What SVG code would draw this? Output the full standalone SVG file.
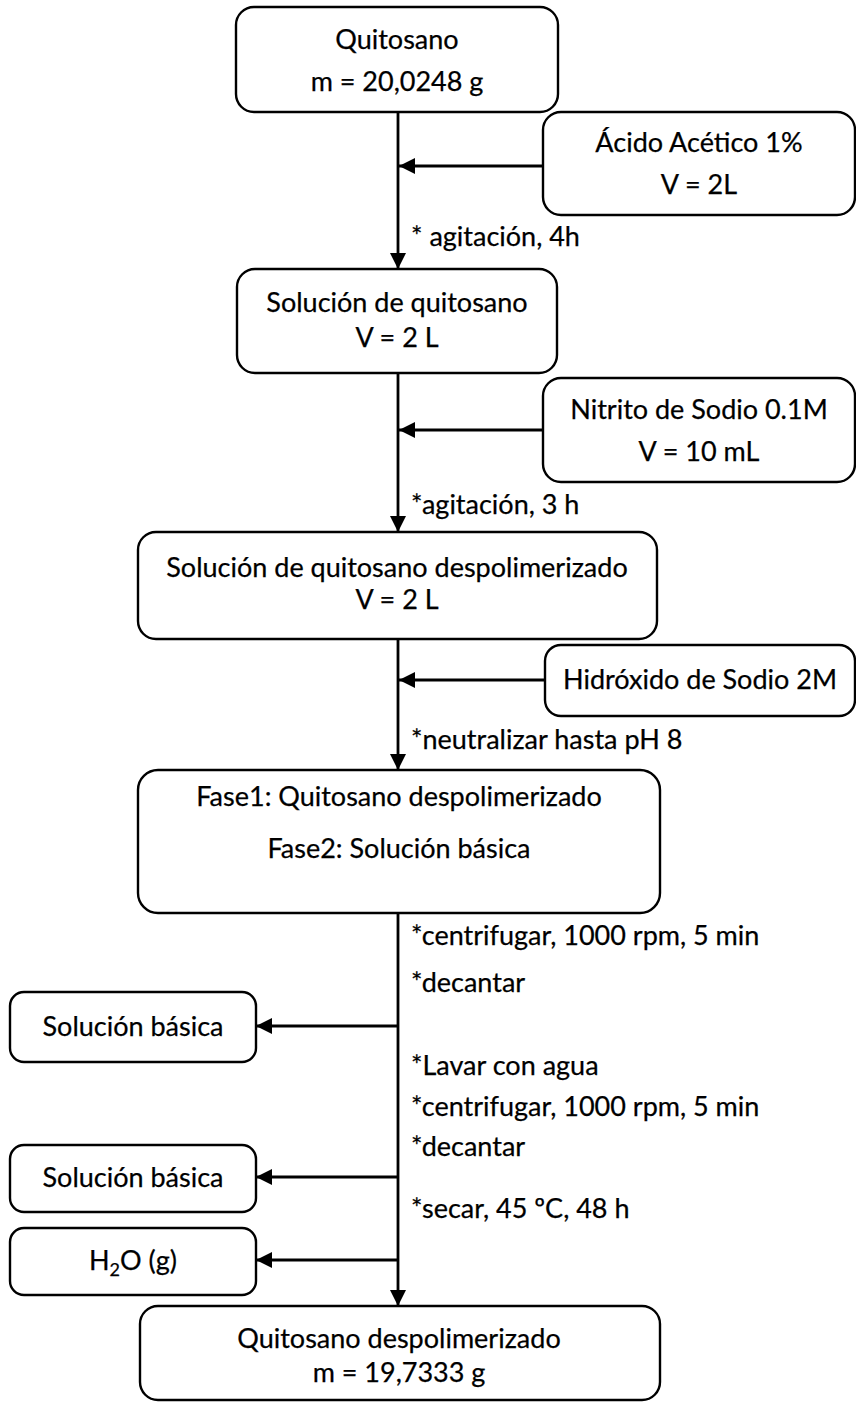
<svg xmlns="http://www.w3.org/2000/svg" width="856" height="1406" viewBox="0 0 856 1406">
<style>
.box{fill:#fff;stroke:#000;stroke-width:2.4}
.t{font-family:Lato,"Open Sans","Liberation Sans",sans-serif;font-size:27px;fill:#000;stroke:#000;stroke-width:0.25}
.c{text-anchor:middle}
.ln{stroke:#000;stroke-width:2.8;fill:none}
</style>
<defs>
<marker id="ah" markerUnits="userSpaceOnUse" markerWidth="17" markerHeight="16" refX="16" refY="8" orient="auto">
<path d="M0,0 L16,8 L0,16 z" fill="#000"/>
</marker>
</defs>
<rect width="856" height="1406" fill="#fff"/>
<g id="connectors">
<line class="ln" x1="398" y1="112" x2="398" y2="269" marker-end="url(#ah)"/>
<line class="ln" x1="398" y1="373" x2="398" y2="532" marker-end="url(#ah)"/>
<line class="ln" x1="398" y1="639" x2="398" y2="770" marker-end="url(#ah)"/>
<line class="ln" x1="398" y1="913" x2="398" y2="1306" marker-end="url(#ah)"/>
<line class="ln" x1="543" y1="166" x2="399" y2="166" marker-end="url(#ah)"/>
<line class="ln" x1="543" y1="430" x2="399" y2="430" marker-end="url(#ah)"/>
<line class="ln" x1="545" y1="680" x2="399" y2="680" marker-end="url(#ah)"/>
<line class="ln" x1="398" y1="1026" x2="256" y2="1026" marker-end="url(#ah)"/>
<line class="ln" x1="398" y1="1177" x2="256" y2="1177" marker-end="url(#ah)"/>
<line class="ln" x1="398" y1="1260" x2="256" y2="1260" marker-end="url(#ah)"/>
<text class="t" x="411" y="246">* agitación, 4h</text>
<text class="t" x="411" y="514">*agitación, 3 h</text>
<text class="t" x="411" y="749">*neutralizar hasta pH 8</text>
<text class="t" x="411" y="945">*centrifugar, 1000 rpm, 5 min</text>
<text class="t" x="411" y="992">*decantar</text>
<text class="t" x="411" y="1075">*Lavar con agua</text>
<text class="t" x="411" y="1116">*centrifugar, 1000 rpm, 5 min</text>
<text class="t" x="411" y="1156">*decantar</text>
<text class="t" x="411" y="1218">*secar, 45 ºC, 48 h</text>
</g>
<g id="n1"><rect class="box" x="236" y="7" width="322" height="105" rx="18"/>
<text class="t c" x="397" y="49">Quitosano</text><text class="t c" x="397" y="91">m = 20,0248 g</text></g>
<g id="n2"><rect class="box" x="543" y="112" width="312" height="103" rx="18"/>
<text class="t c" x="699" y="152">Ácido Acético 1%</text><text class="t c" x="699" y="194">V = 2L</text></g>
<g id="n3"><rect class="box" x="237" y="269" width="320" height="104" rx="18"/>
<text class="t c" x="397" y="312">Solución de quitosano</text><text class="t c" x="397" y="347">V = 2 L</text></g>
<g id="n4"><rect class="box" x="543" y="378" width="312" height="104" rx="18"/>
<text class="t c" x="699" y="419">Nitrito de Sodio 0.1M</text><text class="t c" x="699" y="461">V = 10 mL</text></g>
<g id="n5"><rect class="box" x="138" y="532" width="519" height="107" rx="18"/>
<text class="t c" x="397" y="577">Solución de quitosano despolimerizado</text><text class="t c" x="397" y="609">V = 2 L</text></g>
<g id="n6"><rect class="box" x="545" y="645" width="310" height="71" rx="16"/>
<text class="t c" x="700" y="689">Hidróxido de Sodio 2M</text></g>
<g id="n7"><rect class="box" x="138" y="770" width="522" height="143" rx="20"/>
<text class="t c" x="399" y="806">Fase1: Quitosano despolimerizado</text><text class="t c" x="399" y="858">Fase2: Solución básica</text></g>
<g id="n8"><rect class="box" x="10" y="992" width="246" height="70" rx="14"/>
<text class="t c" x="133" y="1036">Solución básica</text></g>
<g id="n9"><rect class="box" x="10" y="1145" width="246" height="67" rx="14"/>
<text class="t c" x="133" y="1187">Solución básica</text></g>
<g id="n10"><rect class="box" x="10" y="1228" width="246" height="67" rx="14"/>
<text class="t c" x="133" y="1270">H<tspan font-size="18" dy="6">2</tspan><tspan dy="-6">O (g)</tspan></text></g>
<g id="n11"><rect class="box" x="140" y="1306" width="520" height="94" rx="18"/>
<text class="t c" x="399" y="1348">Quitosano despolimerizado</text><text class="t c" x="399" y="1382">m = 19,7333 g</text></g>
</svg>
